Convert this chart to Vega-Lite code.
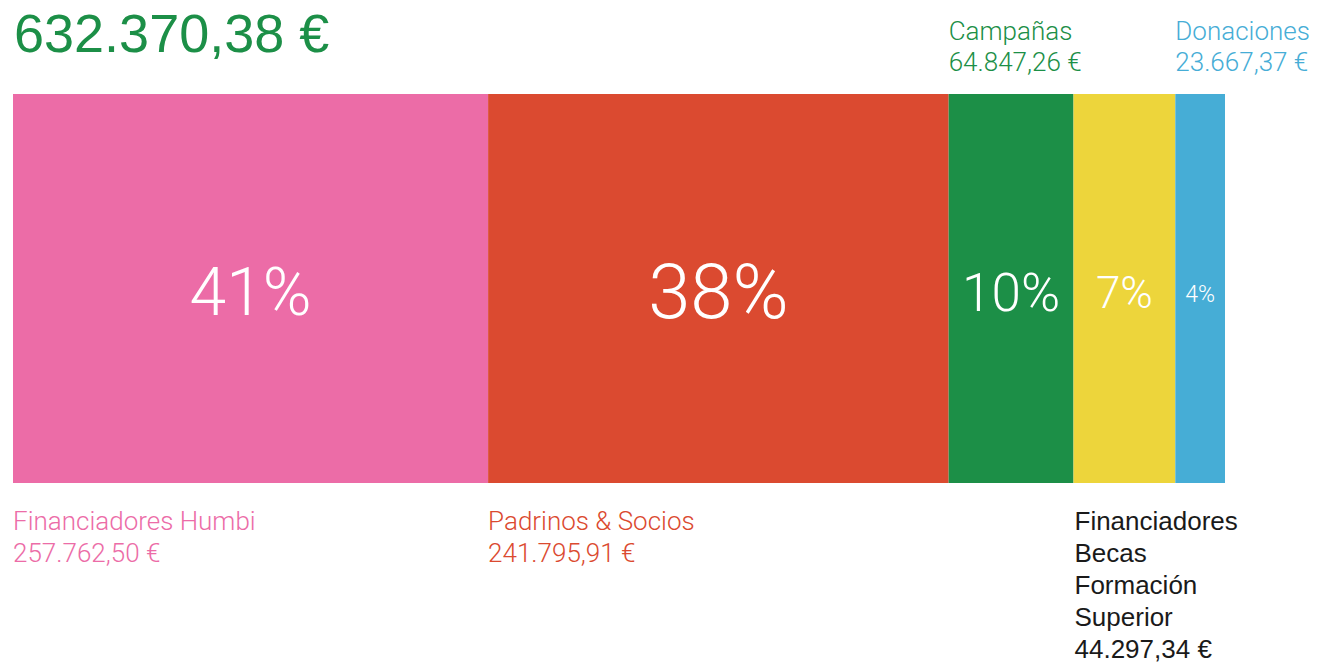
{
  "$schema": "https://vega.github.io/schema/vega-lite/v6.json",
  "width": 1212,
  "height": 389,
  "autosize": {"type": "none"},
  "padding": {"left": 13, "top": 94, "right": 94, "bottom": 182},
  "background": "white",
  "config": {
    "view": {"stroke": null},
    "legend": {"disable": true},
    "locale": {"number": {"decimal": ",", "thousands": ".", "grouping": [3], "currency": ["", " €"]}}
  },
  "data": {
    "values": [
      {"category": "Financiadores Humbi", "amount": 257762.50, "pct": "41%", "share": 39.2},
      {"category": "Padrinos & Socios", "amount": 241795.91, "pct": "38%", "share": 38.0},
      {"category": "Campañas", "amount": 64847.26, "pct": "10%", "share": 10.3},
      {"category": "Financiadores Becas Formación Superior", "amount": 44297.34, "pct": "7%", "share": 8.4},
      {"category": "Donaciones", "amount": 23667.37, "pct": "4%", "share": 4.1}
    ]
  },
  "transform": [
    {"stack": "share", "groupby": [], "sort": [{"field": "share", "order": "descending"}], "as": ["x0", "x1"]}
  ],
  "layer": [
    {
      "mark": {"type": "bar"},
      "encoding": {
        "x": {"field": "x0", "type": "quantitative", "scale": {"domain": [0, 100], "nice": false, "zero": true}, "axis": null},
        "x2": {"field": "x1"},
        "y": {"datum": 0, "type": "quantitative", "scale": {"domain": [0, 1], "nice": false}, "axis": null},
        "y2": {"datum": 1},
        "color": {
          "field": "category",
          "type": "nominal",
          "scale": {
            "domain": ["Financiadores Humbi", "Padrinos & Socios", "Campañas", "Financiadores Becas Formación Superior", "Donaciones"],
            "range": ["#EC6CA7", "#DB4A30", "#1C8F47", "#EDD53B", "#46ADD6"]
          }
        }
      }
    },
    {
      "transform": [
        {"aggregate": [{"op": "sum", "field": "amount", "as": "total"}]}
      ],
      "mark": {"type": "text", "font": "Liberation Sans", "fontSize": 54, "color": "#1C8F47", "align": "left", "baseline": "alphabetic", "dx": 1, "dy": -42},
      "encoding": {
        "x": {"datum": 0, "type": "quantitative"},
        "y": {"datum": 1, "type": "quantitative"},
        "text": {"field": "total", "type": "quantitative", "format": "$,.2f"}
      }
    },
    {
      "transform": [
        {"fold": ["x0", "x1"]},
        {"aggregate": [{"op": "mean", "field": "value", "as": "mid"}], "groupby": ["category", "pct"]}
      ],
      "mark": {"type": "text", "color": "white", "font": "Roboto", "fontWeight": 300, "align": "center", "baseline": "middle", "dy": 6},
      "encoding": {
        "x": {"field": "mid", "type": "quantitative"},
        "y": {"datum": 0.5, "type": "quantitative"},
        "text": {"field": "pct"},
        "size": {
          "field": "category",
          "type": "nominal",
          "scale": {
            "type": "ordinal",
            "domain": ["Financiadores Humbi", "Padrinos & Socios", "Campañas", "Financiadores Becas Formación Superior", "Donaciones"],
            "range": [66, 76, 53, 44, 23]
          }
        }
      }
    },
    {
      "transform": [{"filter": {"field": "category", "oneOf": ["Financiadores Humbi", "Padrinos & Socios"]}}],
      "mark": {"type": "text", "font": "Roboto", "fontWeight": 300, "fontSize": 26, "align": "left", "baseline": "alphabetic", "dx": 0, "dy": 47},
      "encoding": {
        "x": {"field": "x0", "type": "quantitative"},
        "y": {"datum": 0, "type": "quantitative"},
        "text": {"field": "category"},
        "color": {"field": "category", "type": "nominal"}
      }
    },
    {
      "transform": [{"filter": {"field": "category", "oneOf": ["Financiadores Humbi", "Padrinos & Socios"]}}],
      "mark": {"type": "text", "font": "Roboto", "fontWeight": 300, "fontSize": 26, "align": "left", "baseline": "alphabetic", "dx": 0, "dy": 79},
      "encoding": {
        "x": {"field": "x0", "type": "quantitative"},
        "y": {"datum": 0, "type": "quantitative"},
        "text": {"field": "amount", "type": "quantitative", "format": "$,.2f"},
        "color": {"field": "category", "type": "nominal"}
      }
    },
    {
      "transform": [{"filter": {"field": "category", "oneOf": ["Campañas", "Donaciones"]}}],
      "mark": {"type": "text", "font": "Roboto", "fontWeight": 300, "fontSize": 26, "align": "left", "baseline": "alphabetic", "dx": 0, "dy": -54},
      "encoding": {
        "x": {"field": "x0", "type": "quantitative"},
        "y": {"datum": 1, "type": "quantitative"},
        "text": {"field": "category"},
        "color": {"field": "category", "type": "nominal"}
      }
    },
    {
      "transform": [{"filter": {"field": "category", "oneOf": ["Campañas", "Donaciones"]}}],
      "mark": {"type": "text", "font": "Roboto", "fontWeight": 300, "fontSize": 26, "align": "left", "baseline": "alphabetic", "dx": 0, "dy": -23},
      "encoding": {
        "x": {"field": "x0", "type": "quantitative"},
        "y": {"datum": 1, "type": "quantitative"},
        "text": {"field": "amount", "type": "quantitative", "format": "$,.2f"},
        "color": {"field": "category", "type": "nominal"}
      }
    },
    {
      "transform": [{"filter": {"field": "category", "equal": "Financiadores Becas Formación Superior"}}],
      "mark": {"type": "text", "font": "Liberation Sans", "fontSize": 26, "color": "#1A1A1A", "align": "left", "baseline": "alphabetic", "lineBreak": " ", "lineHeight": 32, "dx": 1, "dy": 47},
      "encoding": {
        "x": {"field": "x0", "type": "quantitative"},
        "y": {"datum": 0, "type": "quantitative"},
        "text": {"field": "category"}
      }
    },
    {
      "transform": [{"filter": {"field": "category", "equal": "Financiadores Becas Formación Superior"}}],
      "mark": {"type": "text", "font": "Liberation Sans", "fontSize": 26, "color": "#1A1A1A", "align": "left", "baseline": "alphabetic", "dx": 1, "dy": 175},
      "encoding": {
        "x": {"field": "x0", "type": "quantitative"},
        "y": {"datum": 0, "type": "quantitative"},
        "text": {"field": "amount", "type": "quantitative", "format": "$,.2f"}
      }
    }
  ]
}
